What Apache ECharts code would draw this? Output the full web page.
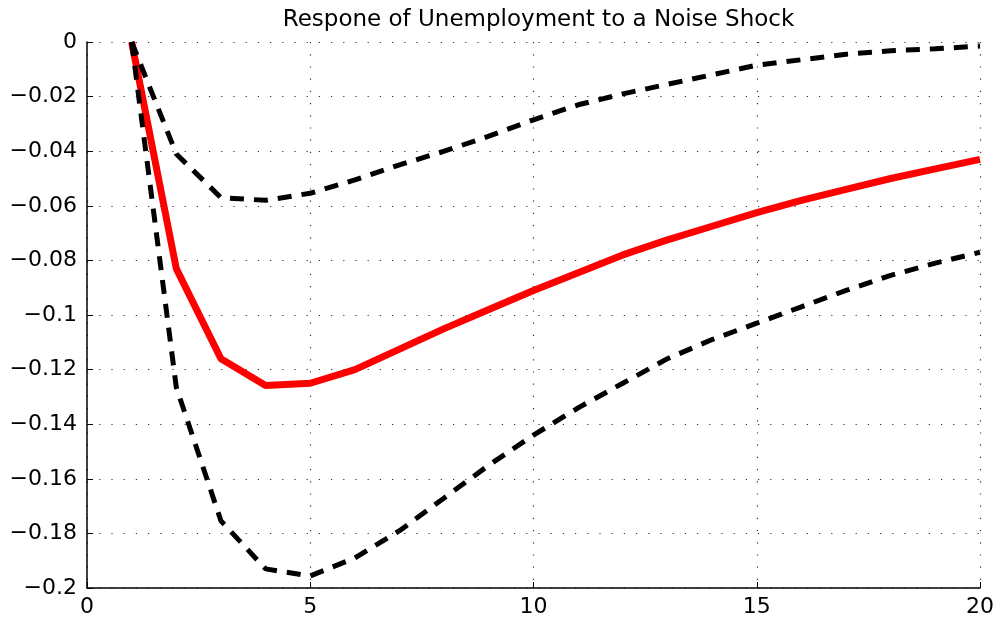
<!DOCTYPE html>
<html>
<head>
<meta charset="utf-8">
<script src="https://cdn.jsdelivr.net/npm/echarts@6/dist/echarts.min.js"></script>
<style>html,body{margin:0;padding:0;background:#fff}#c{width:1001px;height:624px}</style>
</head>
<body>
<div id="c"></div>
<script>
const titleText = "Respone of Unemployment to a Noise Shock";
const horizons = [1,2,3,4,5,6,7,8,9,10,11,12,13,14,15,16,17,18,19,20];
const median = [0,-0.083,-0.116,-0.1258,-0.125,-0.120,-0.1125,-0.105,-0.098,-0.091,-0.0845,-0.078,-0.0725,-0.0675,-0.0625,-0.058,-0.054,-0.050,-0.0465,-0.043];
const upperBand = [0,-0.041,-0.057,-0.058,-0.0554,-0.0505,-0.045,-0.040,-0.0345,-0.0285,-0.023,-0.019,-0.0155,-0.012,-0.0085,-0.0065,-0.0045,-0.0032,-0.0025,-0.0015];
const lowerBand = [0,-0.1265,-0.1754,-0.193,-0.1956,-0.189,-0.179,-0.167,-0.155,-0.144,-0.134,-0.125,-0.116,-0.109,-0.103,-0.097,-0.091,-0.0855,-0.081,-0.077];

const pairs = ys => horizons.map((x, i) => [x, ys[i]]);
const font = 'DejaVu Sans';
const chart = echarts.init(document.getElementById('c'), null, {renderer: 'canvas'});
const gridLine = {show: true, lineStyle: {color: '#333', width: 1.2, type: [1.2, 11]}};
const dashed = {color: '#000', width: 5, type: [14, 10]};
chart.setOption({
  animation: false,
  backgroundColor: '#fff',
  title: {text: titleText, left: 533.5, textAlign: 'center', top: 4,
    textStyle: {fontFamily: font, fontSize: 23, fontWeight: 'normal', color: '#000'}},
  grid: {left: 87, right: 21, top: 42, bottom: 36},
  xAxis: {type: 'value', min: 0, max: 20, interval: 5,
    axisLine: {show: true, onZero: false, lineStyle: {color: '#000', width: 1.5}},
    axisTick: {show: true, inside: true, length: 6, lineStyle: {color: '#000', width: 1}},
    axisLabel: {fontFamily: font, fontSize: 22, color: '#000', margin: 8},
    splitLine: gridLine},
  yAxis: {type: 'value', min: -0.2, max: 0, interval: 0.02,
    axisLine: {show: true, onZero: false, lineStyle: {color: '#000', width: 1.5}},
    axisTick: {show: true, inside: true, length: 6, lineStyle: {color: '#000', width: 1}},
    axisLabel: {fontFamily: font, fontSize: 22, color: '#000', margin: 10,
      formatter: v => Math.abs(v) < 1e-9 ? '0' : '\u2212' + String(+Math.abs(v).toFixed(2))},
    splitLine: gridLine},
  series: [
    {type: 'line', data: pairs(median), showSymbol: false, symbol: 'none',
      lineStyle: {color: '#ff0000', width: 7}, z: 2},
    {type: 'line', data: pairs(upperBand), showSymbol: false, symbol: 'none',
      lineStyle: dashed, z: 3},
    {type: 'line', data: pairs(lowerBand), showSymbol: false, symbol: 'none',
      lineStyle: dashed, z: 3}
  ]
});
</script>
</body>
</html>
